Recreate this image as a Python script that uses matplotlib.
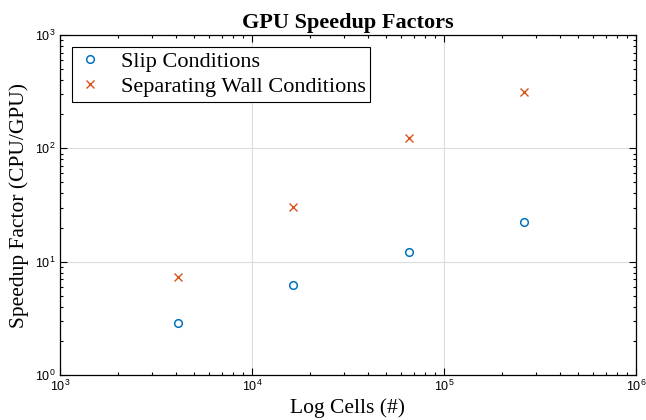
import matplotlib.pyplot as plt
from matplotlib.ticker import LogLocator, NullFormatter

# cell counts (64^2 ... 512^2) and measured speedups
cells = [4096, 16384, 65536, 262144]
slip_speedup = [2.85, 6.2, 12.2, 22.5]
wall_speedup = [7.3, 30.5, 123, 315]

plt.rcParams['mathtext.fontset'] = 'custom'
plt.rcParams['mathtext.rm'] = 'Liberation Sans'

fig = plt.figure(figsize=(6.46, 4.2), dpi=100)
ax = fig.add_axes([60 / 646, 45 / 420, 576 / 646, 340 / 420])

ax.plot(cells, slip_speedup, 'o', mfc='none', mec='#0072BD', mew=1.1, ms=5.5,
        label='Slip Conditions')
ax.plot(cells, wall_speedup, 'x', color='#D95319', mew=1.0, ms=5.5,
        label='Separating Wall Conditions')

ax.set_xscale('log')
ax.set_yscale('log')
ax.set_xlim(1e3, 1e6)
ax.set_ylim(1e0, 1e3)

ax.xaxis.set_minor_locator(LogLocator(base=10, subs=range(2, 10)))
ax.yaxis.set_minor_locator(LogLocator(base=10, subs=range(2, 10)))
ax.xaxis.set_minor_formatter(NullFormatter())
ax.yaxis.set_minor_formatter(NullFormatter())

ax.grid(True, which='major', color='#dcdcdc', lw=0.8)
ax.set_axisbelow(True)
ax.tick_params(which='both', direction='in', top=True, right=True, width=0.8,
               labelsize=9, labelfontfamily='Liberation Sans')
ax.tick_params(which='major', length=5)
ax.tick_params(which='minor', length=2.5)
ax.tick_params(axis='x', pad=3)
for s in ax.spines.values():
    s.set_linewidth(0.9)

ax.set_title('GPU Speedup Factors', fontfamily='Liberation Serif',
             fontweight='bold', fontsize=16, pad=5)
ax.set_xlabel('Log Cells (#)', fontfamily='Liberation Serif', fontsize=15.5,
              labelpad=3)
ax.set_ylabel('Speedup Factor (CPU/GPU)', fontfamily='Liberation Serif',
              fontsize=15.5, labelpad=4)

leg = ax.legend(loc='upper left', prop={'family': 'Liberation Serif', 'size': 16},
                fancybox=False, framealpha=1, edgecolor='black',
                borderpad=0.2, labelspacing=0.2, handletextpad=0.8,
                borderaxespad=0.55, handlelength=1.2)
leg.get_frame().set_linewidth(0.8)

plt.savefig('out.png')
